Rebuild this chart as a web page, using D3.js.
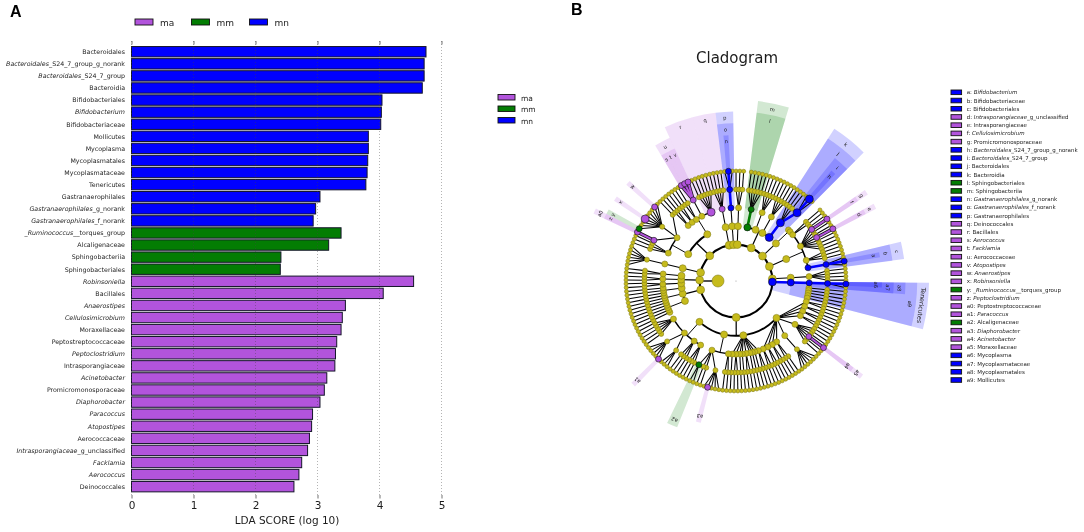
<!DOCTYPE html>
<html>
<head>
<meta charset="utf-8">
<script src="https://cdn.jsdelivr.net/npm/d3@7/dist/d3.min.js"></script>
<style>
html,body{margin:0;padding:0;background:#fff}
svg{display:block;filter:blur(0.2px)}
text{font-family:"DejaVu Sans",sans-serif;fill:#1c1c1c}
</style>
</head>
<body>
<svg id="chart" width="1084" height="532"></svg>
<script>
// ---------- Panel A data ----------
const barNames = ["Bacteroidales","*Bacteroidales*_S24_7_group_g_norank","*Bacteroidales*_S24_7_group","Bacteroidia","Bifidobacteriales","*Bifidobacterium*","Bifidobacteriaceae","Mollicutes","Mycoplasma","Mycoplasmatales","Mycoplasmataceae","Tenericutes","Gastranaerophilales","*Gastranaerophilales*_g_norank","*Gastranaerophilales*_f_norank","*_Ruminococcus_*_torques_group","Alcaligenaceae","Sphingobacteriia","Sphingobacteriales","*Robinsoniella*","Bacillales","*Anaerostipes*","*Cellulosimicrobium*","Moraxellaceae","Peptostreptococcaceae","*Peptoclostridium*","Intrasporangiaceae","*Acinetobacter*","Promicromonosporaceae","*Diaphorobacter*","*Paracoccus*","*Atopostipes*","Aerococcaceae","*Intrasporangiaceae*_g_unclassified","*Facklamia*","*Aerococcus*","Deinococcales"];
const barScores = [4.75,4.72,4.72,4.69,4.04,4.03,4.02,3.82,3.82,3.81,3.80,3.78,3.04,2.97,2.93,3.38,3.18,2.41,2.40,4.55,4.06,3.45,3.40,3.38,3.31,3.29,3.28,3.15,3.11,3.04,2.92,2.905,2.87,2.84,2.745,2.70,2.62];
const barGroups = ["mn","mn","mn","mn","mn","mn","mn","mn","mn","mn","mn","mn","mn","mn","mn","mm","mm","mm","mm","ma","ma","ma","ma","ma","ma","ma","ma","ma","ma","ma","ma","ma","ma","ma","ma","ma","ma"];
const groupNames = ["ma","mm","mn"];
const groupColors = ["#b254dc","#037d03","#0000ff"];
const scoreTicks = [0,1,2,3,4,5];

// ---------- Panel B data ----------
const cladeKeys = ["a","b","c","d","e","f","g","h","i","j","k","l","m","n","o","p","q","r","s","t","u","v","w","x","y","z","a0","a1","a2","a3","a4","a5","a6","a7","a8","a9"];
const cladeNames = ["*Bifidobacterium*","Bifidobacteriaceae","Bifidobacteriales","*Intrasporangiaceae*_g_unclassified","Intrasporangiaceae","*Cellulosimicrobium*","Promicromonosporaceae","*Bacteroidales*_S24_7_group_g_norank","*Bacteroidales*_S24_7_group","Bacteroidales","Bacteroidia","Sphingobacteriales","Sphingobacteriia","*Gastranaerophilales*_g_norank","*Gastranaerophilales*_f_norank","Gastranaerophilales","Deinococcales","Bacillales","*Aerococcus*","*Facklamia*","Aerococcaceae","*Atopostipes*","*Anaerostipes*","*Robinsoniella*","*_Ruminococcus_*_torques_group","*Peptoclostridium*","Peptostreptococcaceae","*Paracoccus*","Alcaligenaceae","*Diaphorobacter*","*Acinetobacter*","Moraxellaceae","Mycoplasma","Mycoplasmataceae","Mycoplasmatales","Mollicutes"];
const cladeGroups = ["mn","mn","mn","ma","ma","ma","ma","mn","mn","mn","mn","mm","mm","mn","mn","mn","ma","ma","ma","ma","ma","ma","ma","ma","mm","ma","ma","ma","mm","ma","ma","ma","mn","mn","mn","mn"];
// Taxonomy, clockwise, one string per phylum.
// ( ) a clade, "n" n plain tips, "n." n nodes with one tip each, a letter after ")" or alone is a key above.
const cladePhyla = [
 "(((5.)l)m ((4.)) ((4.)) ((3. (1 h 1)i)j)k)",
 "((1 1))",
 "(((2.) (1. (f)g 2. (d)e 4.) (3.) ((1 a 1)b)c))",
 "(((4.)))",
 "((((a6 1)a7)a8 (1.) (1.) (1.) (1.) (1.))a9)T",
 "(((2.)(2.)(2.)(2.) (3. (a4)a5 2.) ((6)) (2.)(2.) (2.)(2.)) ((2.)(1.)(1.)(1.)(2.)(1.)(1.)(2.)(1.)) ((2.) ((3 a3 1) 2. (2)a2)) ((3.)(3.) ((3) (a1 4)) (5.)))",
 "(((1.)(1.)(1.)(1.)(1.)) ((1.)(1.)(1.)) ((1.)(1.)(1.)))",
 "(((2.)) ((2.)) ((2.)))",
 "((((6))))",
 "(((3.) ((z)a0 (y 2 x 3 w 1) 1.)) ((2.)(2.)(2.) ((s t v)u) (5.)r))",
 "(((4.)q))",
 "((((1 n 1)o)p))",
 "(((3.)))"
];
const pinnedKeys = ["T","a9","a8","a7"];
const largeKeys = ["h","i","j","k","r","x"];
const firstTipAngle = 7, kingdomAngle = 270;
const phylumLabels = {T:"Tenericutes"};
const nodeSizes = [6,3.9,3.5,3,2.5,2];

// ---------- helpers ----------
const svg = d3.select("#chart");
const colorOf = d3.scaleOrdinal(groupNames, groupColors);
function addRich(sel, s){
  s.split("*").forEach((part,i)=>{
    if(part) sel.append("tspan").attr("font-style", i%2 ? "italic":"normal").text(part);
  });
}
function parseClade(str){
  const toks = str.match(/\)(?:[a-zA-Z]\d?)?|\(|\d+\.?|[a-z]\d?/g);
  const stack=[{children:[]}];
  for(const t of toks){
    const top=stack[stack.length-1];
    if(t==="("){const n={children:[]};top.children.push(n);stack.push(n);}
    else if(t[0]===")"){const n=stack.pop(); if(t.length>1) n.key=t.slice(1);}
    else if(/^\d+\.$/.test(t)){for(let i=0;i<parseInt(t);i++) top.children.push({children:[{}]});}
    else if(/^\d+$/.test(t)){for(let i=0;i<+t;i++) top.children.push({});}
    else top.children.push({key:t});
  }
  return stack[0].children[0];
}

// ---------- Panel A ----------
const x = d3.scaleLinear().domain([0,5]).range([131.5,441.5]);
const y = d3.scaleBand().domain(barNames).range([45.7,492.7]).paddingInner(0.14).paddingOuter(0.07);
const A = svg.append("g");
A.append("g").selectAll("rect").data(barNames).join("rect")
  .attr("x",x(0)).attr("y",d=>y(d)).attr("height",y.bandwidth())
  .attr("width",(d,i)=>x(barScores[i])-x(0))
  .attr("fill",(d,i)=>colorOf(barGroups[i])).attr("stroke","#15152a").attr("stroke-width",1);
A.append("g").selectAll("line").data(scoreTicks).join("line")
  .attr("x1",d=>x(d)).attr("x2",d=>x(d)).attr("y1",41).attr("y2",495)
  .attr("stroke","#444").attr("stroke-opacity",.5).attr("stroke-width",.8).attr("stroke-dasharray","1 2");
A.append("g").selectAll("text").data(barNames).join("text")
  .attr("x",125).attr("y",d=>y(d)+y.bandwidth()/2+2.3).attr("text-anchor","end").attr("font-size",6.3)
  .each(function(d){addRich(d3.select(this),d);});
const axB = A.append("g").attr("transform","translate(0,495)").call(d3.axisBottom(x).tickValues(scoreTicks).tickSize(3.5).tickPadding(3).tickFormat(d3.format("d")));
const axT = A.append("g").attr("transform","translate(0,44.5)").call(d3.axisTop(x).tickValues(scoreTicks).tickSize(3.5).tickFormat(""));
[axB,axT].forEach(a=>{a.select(".domain").remove();a.selectAll("line").attr("stroke","#333").attr("stroke-width",.7);});
axB.selectAll("text").attr("font-size",10.5).attr("font-family","DejaVu Sans").attr("fill","#111");
A.append("text").attr("x",287).attr("y",524).attr("text-anchor","middle").attr("font-size",10.5).text("LDA SCORE (log 10)");

// group legends
const topLegX = d3.scaleOrdinal(groupNames,[135,191.5,249.5]);
const topLeg = A.append("g").selectAll("g").data(groupNames).join("g").attr("transform",d=>`translate(${topLegX(d)},19)`);
topLeg.append("rect").attr("width",18).attr("height",6).attr("fill",d=>colorOf(d)).attr("stroke","#111").attr("stroke-width",.9);
topLeg.append("text").attr("x",25).attr("y",6.8).attr("font-size",9).text(d=>d);
const sideLegY = d3.scaleOrdinal(groupNames,[94.5,106,117.5]);
const sideLeg = A.append("g").selectAll("g").data(groupNames).join("g").attr("transform",d=>`translate(498,${sideLegY(d)})`);
sideLeg.append("rect").attr("width",17).attr("height",5.5).attr("fill",d=>colorOf(d)).attr("stroke","#111").attr("stroke-width",.9);
sideLeg.append("text").attr("x",23).attr("y",6).attr("font-size",7.5).text(d=>d);

svg.append("text").attr("x",10).attr("y",17).style("font-family","Liberation Sans").attr("font-weight","bold").attr("font-size",16).style("fill","#000").text("A");
svg.append("text").attr("x",571).attr("y",15).style("font-family","Liberation Sans").attr("font-weight","bold").attr("font-size",16).style("fill","#000").text("B");
svg.append("text").attr("x",737).attr("y",63).attr("text-anchor","middle").attr("font-size",15).text("Cladogram");

// ---------- Panel B ----------
const groupOfKey = new Map(cladeKeys.map((k,i)=>[k,cladeGroups[i]]));
groupOfKey.set("T","mn");
const treeRoot = d3.hierarchy({children:cladePhyla.map(parseClade)});
const tipCount = treeRoot.leaves().length;
d3.cluster().size([360*(tipCount-1)/tipCount,1]).separation(()=>1)(treeRoot);
treeRoot.each(n=>{n.angle=(firstTipAngle+n.x)*Math.PI/180;});
treeRoot.eachAfter(n=>{ if(pinnedKeys.includes(n.data.key)) n.angle=n.children[0].angle; });
treeRoot.angle=kingdomAngle*Math.PI/180;

const radius = d3.scaleLinear().domain([0,5]).range([18,110]);
const labelR = d3.scaleLinear().domain([5,1]).range([140,187]);
const cx=736, cy=281;
const B = svg.append("g").attr("transform",`translate(${cx},${cy})`);
const pt=(a,r)=>d3.pointRadial(a,r);
const ring=d3.arc();
const keyed = treeRoot.descendants().filter(n=>n.data.key);

// shaded wedges
const pad=1*Math.PI/180;
B.append("g").selectAll("path").data(keyed).join("path")
  .attr("d",n=>{const l=n.leaves();return ring({innerRadius:radius(n.depth),outerRadius:labelR(n.depth)+6,
     startAngle:l[0].angle-pad,endAngle:l[l.length-1].angle+pad});})
  .attr("fill",n=>colorOf(groupOfKey.get(n.data.key))).attr("fill-opacity",.18);

// branches
const gE=B.append("g").attr("fill","none").attr("stroke","#000");
const arcWidth=[2.1,1.9,1.5];
treeRoot.descendants().filter(n=>n.children).forEach(p=>{
  const kids=p.children, rc=radius(p.depth+1);
  if(p.depth<=2 && kids.length>1 && (p.depth<2 || kids.length<=6)){
    const a0=p.depth===0?0:d3.min(kids,k=>k.angle), a1=p.depth===0?2*Math.PI:d3.max(kids,k=>k.angle);
    gE.append("path").attr("stroke-width",arcWidth[p.depth])
      .attr("d",ring({innerRadius:rc,outerRadius:rc,startAngle:a0,endAngle:a1}));
    const s=pt(p.angle,radius(p.depth)), e=pt(p.angle,rc);
    gE.append("line").attr("x1",s[0]).attr("y1",s[1]).attr("x2",e[0]).attr("y2",e[1]).attr("stroke-width",arcWidth[p.depth]*.65);
  } else {
    kids.forEach(k=>{
      const s=pt(p.angle,radius(p.depth)), e=pt(k.angle,radius(k.depth));
      gE.append("line").attr("x1",s[0]).attr("y1",s[1]).attr("x2",e[0]).attr("y2",e[1]).attr("stroke-width",1.05);
    });
  }
});
// highlighted branches
const hiLinks=keyed.filter(n=>n.parent&&n.parent.data.key);
const linkXY=n=>{const s=pt(n.parent.angle,radius(n.parent.depth)),e=pt(n.angle,radius(n.depth));return {s,e};};
B.append("g").selectAll("line").data(hiLinks.filter(n=>groupOfKey.get(n.data.key)==="ma")).join("line")
  .attr("x1",n=>linkXY(n).s[0]).attr("y1",n=>linkXY(n).s[1]).attr("x2",n=>linkXY(n).e[0]).attr("y2",n=>linkXY(n).e[1])
  .attr("stroke","#111").attr("stroke-width",3.4);
B.append("g").selectAll("line").data(hiLinks).join("line")
  .attr("x1",n=>linkXY(n).s[0]).attr("y1",n=>linkXY(n).s[1]).attr("x2",n=>linkXY(n).e[0]).attr("y2",n=>linkXY(n).e[1])
  .attr("stroke",n=>colorOf(groupOfKey.get(n.data.key))).attr("stroke-width",n=>groupOfKey.get(n.data.key)==="ma"?2:2.6);

// nodes
const allNodes=treeRoot.descendants().sort((a,b)=>(a.data.key?1:0)-(b.data.key?1:0));
B.append("g").selectAll("circle").data(allNodes).join("circle")
  .attr("cx",n=>pt(n.angle,radius(n.depth))[0]).attr("cy",n=>pt(n.angle,radius(n.depth))[1])
  .attr("r",n=>{const base=nodeSizes[n.depth]; if(!n.data.key) return base; return largeKeys.includes(n.data.key)?4:Math.max(base,3);})
  .attr("fill",n=>n.data.key?colorOf(groupOfKey.get(n.data.key)):"#c6bb1c")
  .attr("stroke",n=>n.data.key?"#111":"#84801a").attr("stroke-width",.6);
B.append("circle").attr("r",.6).attr("fill","#999");

// clade labels on wedges
const midAngle=n=>{const l=n.leaves();return (l[0].angle+l[l.length-1].angle)/2;};
B.append("g").selectAll("text").data(keyed).join("text")
  .attr("transform",n=>{const p=pt(midAngle(n),labelR(n.depth));return `translate(${p[0]},${p[1]}) rotate(${midAngle(n)*180/Math.PI})`;})
  .attr("text-anchor","middle").attr("dy","0.35em").attr("font-size",n=>phylumLabels[n.data.key]?6.3:5.2)
  .text(n=>phylumLabels[n.data.key]||n.data.key);

// clade legend
const legY=d3.scalePoint().domain(cladeKeys).range([92.3,380]);
const leg=svg.append("g").selectAll("g").data(cladeKeys).join("g").attr("transform",d=>`translate(951,${legY(d)})`);
leg.append("rect").attr("y",-2.3).attr("width",10.6).attr("height",4.6)
  .attr("fill",(d,i)=>colorOf(cladeGroups[i])).attr("stroke","#111").attr("stroke-width",.9);
leg.append("text").attr("x",15.7).attr("y",2).attr("font-size",5.5)
  .each(function(d,i){const t=d3.select(this);t.append("tspan").text(d+": ");addRich(t,cladeNames[i]);});
</script>
</body>
</html>
